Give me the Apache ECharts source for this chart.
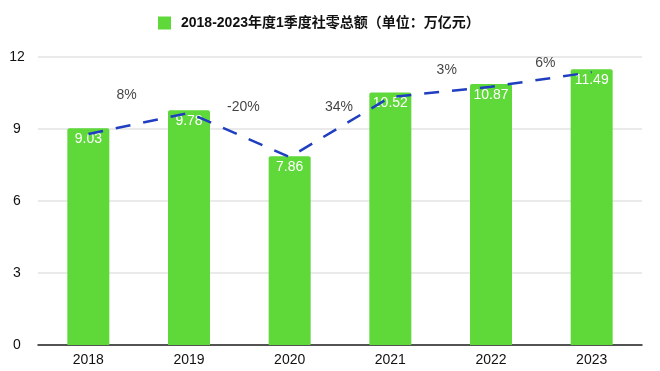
<!DOCTYPE html>
<html><head><meta charset="utf-8">
<script src="https://cdn.jsdelivr.net/npm/echarts@6/dist/echarts.min.js"></script>
<style>html,body{margin:0;padding:0;background:#fff}#c{width:660px;height:371px}</style>
</head><body><div id="c"></div>
<script>
const categories = ['2018','2019','2020','2021','2022','2023'];
const salesValues = [9.03, 9.78, 7.86, 10.52, 10.87, 11.49];
const trendValues = [8.79, 9.67, 7.83, 10.33, 10.76, 11.37];
const growthLabels = ['8%', '-20%', '34%', '3%', '6%'];
const growthLabelY = [10.4, 9.9, 9.9, 11.45, 11.75];
const growthLabelX = [0.88, 2.04, 2.99, 4.06, 5.04];
const yTicks = [0, 3, 6, 9, 12];
const legendName = '2018-2023年度1季度社零总额（单位：万亿元）';

const font = '"Liberation Sans", Arial, "Noto Sans CJK SC", sans-serif';
const chart = echarts.init(document.getElementById('c'));
chart.setOption({
  animation: false,
  textStyle: { fontFamily: font },
  legend: {
    data: [{ name: legendName, icon: 'rect' }],
    left: 153, top: 11,
    itemWidth: 13, itemHeight: 13, itemGap: 8,
    textStyle: { fontSize: 14, fontWeight: 'bold', color: '#111', fontFamily: font, padding: [0,0,0,5] }
  },
  grid: { left: 38, right: 18, top: 57, bottom: 26 },
  xAxis: [{
    type: 'category', data: categories,
    axisLine: { lineStyle: { color: '#222', width: 1.5 } },
    axisTick: { show: false },
    axisLabel: { color: '#111', fontSize: 14, margin: 8 }
  }, {
    type: 'value', min: 0, max: 6, show: false
  }],
  yAxis: {
    type: 'value', min: yTicks[0], max: yTicks[yTicks.length-1], interval: 3,
    axisLine: { show: false }, axisTick: { show: false },
    axisLabel: { color: '#111', fontSize: 14, align: 'center', margin: 21 },
    splitLine: { lineStyle: { color: '#e3e3e3', width: 1.5 } }
  },
  series: [{
    name: legendName, type: 'bar', data: salesValues,
    barWidth: 42, itemStyle: { color: '#5fd83a', borderRadius: [2,2,0,0] },
    label: { show: true, position: 'insideTop', distance: 4, color: '#fff', fontSize: 14 }
  }, {
    name: 'trend', type: 'line', data: trendValues,
    symbol: 'none',
    lineStyle: { color: '#1f3fc0', width: 2.5, type: [15, 13] },
    z: 5
  }, {
    name: 'growth', type: 'scatter', xAxisIndex: 1,
    data: growthLabelX.map((x, i) => [x, growthLabelY[i], growthLabels[i]]),
    symbolSize: 0,
    label: { show: true, position: 'inside', color: '#111', fontSize: 14,
      formatter: p => p.data[2] }
  }]
});
</script></body></html>
